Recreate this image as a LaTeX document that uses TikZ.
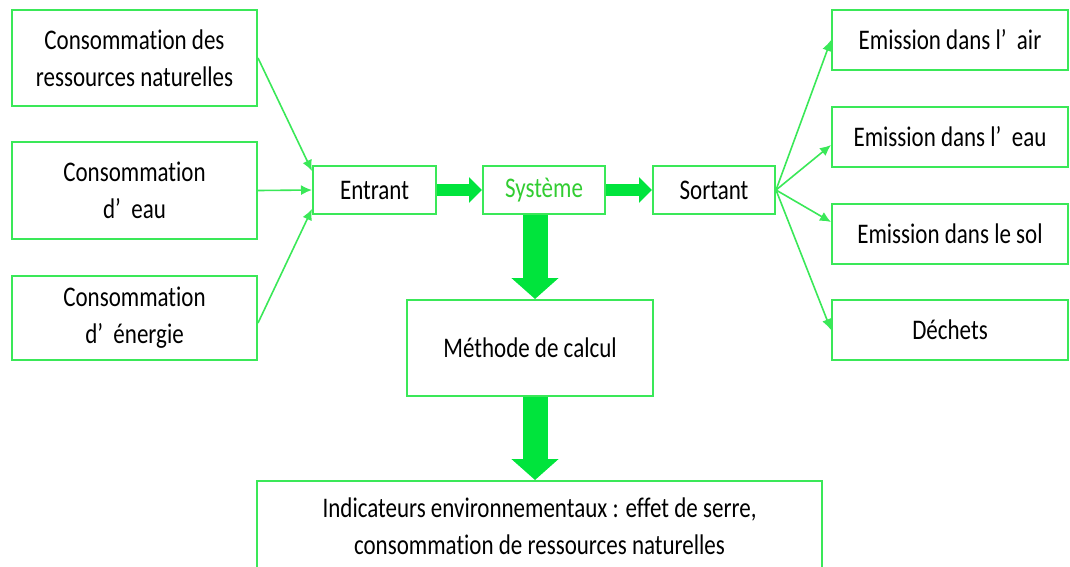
\documentclass[tikz,border=0pt]{standalone}
\usepackage{fontspec}
\setmainfont[FakeStretch=0.81,Ligatures=NoCommon]{Carlito}
\usetikzlibrary{arrows.meta}
\definecolor{boxgreen}{RGB}{58,232,88}
\definecolor{flowgreen}{RGB}{0,228,60}
\definecolor{textgreen}{RGB}{50,205,50}
\tikzset{
  box/.style={draw=boxgreen, line width=2pt, fill=white, inner sep=0pt,
    align=center, font=\fontsize{28.4}{37}\selectfont},
  link/.style={draw=boxgreen, line width=1.6pt,
    -{Latex[length=11pt,width=10pt]}, color=boxgreen},
  flowthin/.style={draw=flowgreen, line width=12pt,
    -{Triangle[length=13pt,width=25pt]}},
  flowwide/.style={draw=flowgreen, line width=25pt,
    -{Triangle[length=21pt,width=46pt]}},
}
\begin{document}
\begin{tikzpicture}[x=1pt,y=-1pt]
\clip (0,0) rectangle (1070,566);
\useasboundingbox (0,0) rectangle (1070,566);

% inputs
\node[box, minimum width=245pt, minimum height=96pt] (r1) at (134.5,58)
  {Consommation des\\ressources naturelles};
\node[box, minimum width=245pt, minimum height=97pt] (r2) at (134.5,190.5)
  {Consommation\\d’~~eau};
\node[box, minimum width=245pt, minimum height=84pt] (r3) at (134.5,318)
  {Consommation\\d’~~énergie};

% central chain
\node[box, minimum width=123pt, minimum height=48pt] (entrant) at (374.5,190) {Entrant};
\node[box, minimum width=122pt, minimum height=48pt, text=textgreen] (systeme) at (544,190) {Système};
\node[box, minimum width=122pt, minimum height=48pt] (sortant) at (714,190) {Sortant};
\node[box, minimum width=246pt, minimum height=96pt] (methode) at (530,348) {Méthode de calcul};
\node[box, minimum width=565pt, minimum height=90pt] (indic) at (539.5,526)
  {Indicateurs environnementaux : effet de serre,\\consommation de ressources naturelles};

% outputs
\node[box, minimum width=236pt, minimum height=60pt] (e1) at (950,40) {Emission dans l’~~air};
\node[box, minimum width=236pt, minimum height=60pt] (e2) at (950,137) {Emission dans l’~~eau};
\node[box, minimum width=236pt, minimum height=60pt] (e3) at (950,234) {Emission dans le sol};
\node[box, minimum width=236pt, minimum height=60pt] (e4) at (950,330) {Déchets};

% thin connectors
\draw[link] (r1.east) -- ([yshift=-6pt]entrant.north west);
\draw[link] (r2.east) -- (entrant.west);
\draw[link] ([yshift=-5pt]r3.east) -- ([yshift=6pt]entrant.south west);
\draw[link] (sortant.east) -- (e1.west);
\draw[link] (sortant.east) -- ([yshift=-8pt]e2.west);
\draw[link] (sortant.east) -- ([yshift=12pt]e3.west);
\draw[link] (sortant.east) -- (e4.west);

% thick flow arrows
\draw[flowthin] (entrant.east) -- (systeme.west);
\draw[flowthin] (systeme.east) -- (sortant.west);
\draw[flowwide] ([xshift=-9pt]systeme.south) -- ([xshift=5pt]methode.north);
\draw[flowwide] ([xshift=5pt]methode.south) -- ([xshift=-4.5pt]indic.north);
\end{tikzpicture}
\end{document}
